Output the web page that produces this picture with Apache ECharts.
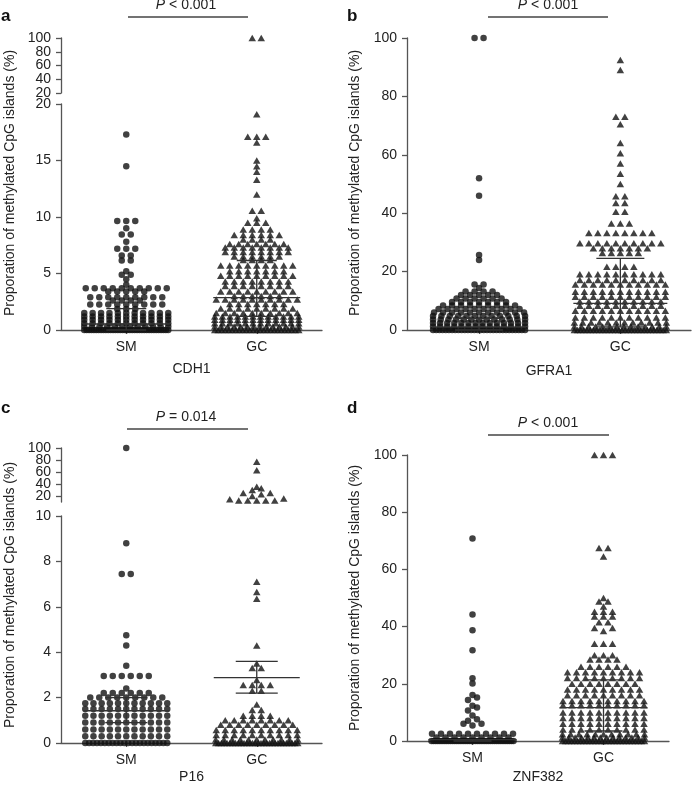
<!DOCTYPE html>
<html><head><meta charset="utf-8">
<script src="https://cdn.jsdelivr.net/npm/echarts@6/dist/echarts.min.js"></script>
<style>html,body{margin:0;padding:0;background:#fff}#c{width:692px;height:785px}</style>
</head><body><div id="c"></div>
<script>
// ---------------- DATA ----------------
const categories = ['SM', 'GC'];
const yTitle = 'Proporation of methylated CpG islands (%)';

// CDH1 (panel a)
const cdh1SmLevels = [0, 0.3, 0.6, 0.9, 1.2, 1.5, 1.85, 2.25, 2.6, 2.9, 3.4, 3.7, 4.0, 4.5, 4.9, 5.2, 6.15, 6.6, 7.2, 7.8, 8.45, 9.0, 9.65, 14.5, 17.3];
const cdh1SmCounts = [36, 12, 11, 11, 11, 11, 3, 9, 4, 9, 5, 10, 1, 1, 2, 1, 2, 2, 3, 1, 2, 1, 3, 1, 1];
const cdh1GcLevels = [0, 0.3, 0.6, 0.9, 1.2, 1.5, 1.9, 2.3, 2.7, 3.0, 3.4, 3.9, 4.3, 4.8, 5.2, 5.7, 6.2, 6.5, 6.9, 7.3, 7.6, 8.0, 8.4, 8.9, 9.5, 9.9, 10.55, 12.0, 13.3, 14.0, 14.5, 15.0, 16.6, 17.1, 19.1, 100];
const cdh1GcCounts = [25, 14, 12, 12, 12, 10, 9, 7, 10, 6, 9, 8, 8, 9, 7, 9, 4, 6, 8, 8, 7, 4, 6, 4, 3, 1, 2, 1, 1, 1, 1, 1, 1, 3, 1, 2];
const cdh1Center = [0.53, 2.86], cdh1Low = [0, 1.2], cdh1High = [1.9, 6.15];
const cdh1TicksLow = [0, 5, 10, 15, 20], cdh1TicksHigh = [20, 40, 60, 80, 100];

// GFRA1 (panel b)
const gfra1SmLevels = [0, 1.2, 2.4, 3.6, 4.8, 6.0, 7.2, 8.4, 9.6, 10.8, 12.0, 13.2, 14.4, 15.6, 24.0, 25.7, 46, 52, 100];
const gfra1SmCounts = [30, 14, 14, 13, 12, 11, 10, 9, 7, 6, 5, 4, 1, 2, 1, 1, 1, 1, 2];
const gfra1GcLevels = [0, 1.2, 2.6, 4.3, 6.6, 8.3, 9.8, 11.4, 13.1, 15.6, 17.1, 19.1, 21.7, 26.4, 28.0, 29.7, 33.2, 36.5, 40.5, 43.5, 45.8, 50, 53.5, 57, 60.5, 64, 70.5, 73, 89, 92.5];
const gfra1GcCounts = [30, 14, 12, 11, 11, 10, 10, 11, 11, 11, 10, 10, 4, 5, 7, 10, 8, 3, 2, 2, 2, 1, 1, 1, 1, 1, 1, 2, 1, 1];
const gfra1Center = [1.0, 9.1], gfra1Low = [0, 1.1], gfra1High = [4.0, 24.5];
const gfra1Ticks = [0, 20, 40, 60, 80, 100];

// P16 (panel c)
const p16SmLevels = [0, 0.3, 0.6, 0.9, 1.2, 1.5, 1.75, 2.0, 2.2, 2.4, 2.95, 3.4, 4.3, 4.75, 7.45, 8.8, 100];
const p16SmCounts = [22, 11, 11, 11, 11, 11, 11, 9, 6, 1, 6, 1, 1, 1, 2, 1, 1];
const p16GcLevels = [0, 0.15, 0.35, 0.57, 0.8, 1.0, 1.2, 1.45, 1.7, 2.3, 2.55, 2.77, 3.3, 3.5, 4.3, 6.35, 6.65, 7.1, 12.5, 14.5, 16, 20, 23, 25, 30, 33, 35.5, 63, 77];
const p16GcCounts = [30, 11, 10, 10, 9, 8, 4, 2, 1, 2, 4, 1, 2, 1, 1, 1, 1, 1, 5, 1, 1, 1, 1, 2, 1, 1, 1, 1, 1];
const p16Center = [1.42, 2.88], p16Low = [0.9, 2.2], p16High = [2.0, 3.6];
const p16TicksLow = [0, 2, 4, 6, 8, 10], p16TicksHigh = [20, 40, 60, 80, 100];

// ZNF382 (panel d)
const znfSmLevels = [0, 1.2, 2.5, 5.4, 6.0, 7.1, 7.6, 8.9, 10.7, 11.7, 12.3, 14.3, 15.2, 16.1, 20.1, 21.9, 31.7, 38.7, 44.2, 70.8];
const znfSmCounts = [40, 9, 10, 1, 2, 1, 1, 1, 1, 1, 1, 1, 1, 1, 1, 1, 1, 1, 1, 1];
const znfGcLevels = [0, 1.2, 2.4, 4, 6, 8, 10, 12.5, 14, 16, 18, 20, 22, 24, 26, 28.5, 30, 34, 38.5, 39.5, 41.5, 43.5, 45.2, 47, 48.8, 50, 64.5, 67.5, 100];
const znfGcCounts = [28, 14, 11, 10, 10, 10, 10, 10, 10, 9, 9, 8, 9, 9, 6, 4, 3, 3, 1, 2, 2, 3, 3, 1, 2, 1, 1, 2, 3];
const znfCenter = [0.45, 11.7], znfLow = [0, 3.5], znfHigh = [0.45, 21.4];
const znfTicks = [0, 20, 40, 60, 80, 100];

// ---------------- LAYOUT / STYLE ----------------
const FONT = '"Liberation Sans", Arial, Helvetica, sans-serif';
const AX = '#555';
const TXT = '#222';
const DOT = '#111';
const PITCH = 9;
const ROW_TH = 3.2;

const panels = [
  { gene: 'CDH1', letter: 'a', pRel: '< 0.001',
    sm: [cdh1SmLevels, cdh1SmCounts], gc: [cdh1GcLevels, cdh1GcCounts],
    center: cdh1Center, low: cdh1Low, high: cdh1High,
    left: 61, width: 261, xMin: 0.5, xMax: 2.5,
    segs: [{ min: 0, max: 20, top: 104, height: 226, ticks: cdh1TicksLow },
           { min: 20, max: 100, top: 38, height: 55, ticks: cdh1TicksHigh, compact: true }],
    nameGap: 32, longHalf: 43.5, shortHalf: 20, maxHalf: 42,
    letterPos: [1, 16], pPos: [186, 5], pLine: [128, 248, 17], titlePos: [10, 183] },
  { gene: 'GFRA1', letter: 'b', pRel: '< 0.001',
    sm: [gfra1SmLevels, gfra1SmCounts], gc: [gfra1GcLevels, gfra1GcCounts],
    center: gfra1Center, low: gfra1Low, high: gfra1High,
    left: 407, width: 284, xMin: 0.49, xMax: 2.5,
    segs: [{ min: 0, max: 100, top: 38, height: 292, ticks: gfra1Ticks }],
    nameGap: 34, longHalf: 47, shortHalf: 24, maxHalf: 46,
    letterPos: [347, 16], pPos: [548, 5], pLine: [488, 608, 17], titlePos: [355, 183] },
  { gene: 'P16', letter: 'c', pRel: '= 0.014',
    sm: [p16SmLevels, p16SmCounts], gc: [p16GcLevels, p16GcCounts],
    center: p16Center, low: p16Low, high: p16High,
    left: 61, width: 261, xMin: 0.5, xMax: 2.5,
    segs: [{ min: 0, max: 10, top: 516, height: 227, ticks: p16TicksLow },
           { min: 10, max: 100, top: 448, height: 54, ticks: p16TicksHigh, compact: true }],
    nameGap: 27, longHalf: 43, shortHalf: 21, maxHalf: 41,
    letterPos: [1, 408], pPos: [186, 417], pLine: [127, 248, 429], titlePos: [10, 595] },
  { gene: 'ZNF382', letter: 'd', pRel: '< 0.001',
    sm: [znfSmLevels, znfSmCounts], gc: [znfGcLevels, znfGcCounts],
    center: znfCenter, low: znfLow, high: znfHigh,
    left: 407, width: 262, xMin: 0.5, xMax: 2.5,
    segs: [{ min: 0, max: 100, top: 455, height: 288, ticks: znfTicks }],
    nameGap: 29, longHalf: 44, shortHalf: 19, maxHalf: 41,
    letterPos: [347, 408], pPos: [548, 423], pLine: [488, 609, 435], titlePos: [355, 598] }
];

// ---------------- BUILD ----------------
function expand(levels, counts) {
  const out = [];
  levels.forEach((v, i) => { for (let k = 0; k < counts[i]; k++) out.push(v); });
  return out;
}
function segOf(p, v) { return (p.segs.length > 1 && v > p.segs[0].max) ? 1 : 0; }
function pyOf(p, v) {
  const s = p.segs[segOf(p, v)];
  return s.top + s.height * (1 - (v - s.min) / (s.max - s.min));
}
// GraphPad-like row swarm: returns [[x, v, segIndex], ...]
function swarm(p, values, centerX) {
  const pxPerX = p.width / (p.xMax - p.xMin);
  const items = values.map(v => ({ v, py: pyOf(p, v) })).sort((a, b) => b.py - a.py);
  const rows = [];
  items.forEach(it => {
    const r = rows[rows.length - 1];
    if (r && Math.abs(it.py - r[0].py) < ROW_TH) r.push(it); else rows.push([it]);
  });
  const out = [];
  rows.forEach(r => {
    const n = r.length;
    let pitch = PITCH;
    if (n > 1 && (n - 1) * pitch > 2 * p.maxHalf) pitch = 2 * p.maxHalf / (n - 1);
    const slots = [];
    for (let k = 0; k < n; k++) slots.push((k - (n - 1) / 2) * pitch);
    slots.sort((a, b) => (Math.abs(a) - Math.abs(b)) || (a - b));
    const vals = r.map(o => o.v).sort((a, b) => a - b);
    vals.forEach((v, i) => out.push([centerX + slots[i] / pxPerX, v, segOf(p, v)]));
  });
  return out;
}

const grids = [], xAxes = [], yAxes = [], series = [], graphics = [];
const labelBase = { margin: 10, fontSize: 14, color: TXT, fontFamily: FONT, hideOverlap: false,
  showMinLabel: true, showMaxLabel: true };

panels.forEach(p => {
  const idx = [];
  p.segs.forEach((s, si) => {
    const gi = grids.length;
    grids.push({ left: p.left, top: s.top, width: p.width, height: s.height, containLabel: false });
    const bottom = si === 0;
    xAxes.push({
      type: 'value', gridIndex: gi, min: p.xMin, max: p.xMax, show: bottom,
      axisLine: { show: true, onZero: false, lineStyle: { color: AX, width: 1.3 } },
      axisTick: { show: true, customValues: [1, 2], length: 4, lineStyle: { color: AX, width: 1.3 } },
      axisLabel: { show: true, customValues: [1, 2], formatter: v => categories[Math.round(v) - 1] || '',
        margin: 10, fontSize: 14, color: TXT, fontFamily: FONT },
      splitLine: { show: false },
      name: bottom ? p.gene : '', nameLocation: 'middle', nameGap: p.nameGap,
      nameTextStyle: { fontSize: 14, color: TXT, fontFamily: FONT }
    });
    const yi = yAxes.length;
    // compact (broken) segments: split labels over two axes so none is dropped
    const mainLabels = s.compact ? s.ticks.filter((t, k) => k % 2 === 0) : s.ticks;
    yAxes.push({
      type: 'value', gridIndex: gi, min: s.min, max: s.max, interval: s.ticks[1] - s.ticks[0],
      axisLine: { show: true, onZero: false, lineStyle: { color: AX, width: 1.3 } },
      axisTick: { show: true, customValues: s.ticks, length: 5, lineStyle: { color: AX, width: 1.3 } },
      axisLabel: Object.assign({ customValues: mainLabels }, labelBase),
      splitLine: { show: false }
    });
    if (s.compact) {
      yAxes.push({
        type: 'value', gridIndex: gi, min: s.min, max: s.max, position: 'left', offset: 0,
        axisLine: { show: false }, axisTick: { show: false }, splitLine: { show: false },
        axisLabel: Object.assign({ customValues: s.ticks.filter((t, k) => k % 2 === 1) }, labelBase)
      });
    }
    idx.push({ gi, yi });
  });

  [p.sm, p.gc].forEach((g, gIdx) => {
    const pts = swarm(p, expand(g[0], g[1]), gIdx + 1);
    p.segs.forEach((s, si) => {
      series.push({
        type: 'scatter', xAxisIndex: idx[si].gi, yAxisIndex: idx[si].yi,
        symbol: gIdx === 0 ? 'circle' : 'triangle',
        symbolSize: gIdx === 0 ? 6.5 : [7.5, 6.5],
        itemStyle: { color: DOT },
        silent: true, animation: false,
        data: pts.filter(d => d[2] === si).map(d => [d[0], d[1]])
      });
    });
  });

  const L = p.longHalf, S = p.shortHalf;
  series.push({
    type: 'custom', xAxisIndex: idx[0].gi, yAxisIndex: idx[0].yi, z: 5, silent: true, animation: false,
    data: [0, 1].map(i => [i + 1, p.center[i], p.low[i], p.high[i]]),
    renderItem: (params, api) => {
      const x = api.value(0);
      const pc = api.coord([x, api.value(1)]);
      const pl = api.coord([x, api.value(2)]);
      const ph = api.coord([x, api.value(3)]);
      const st = { stroke: '#333', lineWidth: 1.3 };
      return { type: 'group', children: [
        { type: 'line', shape: { x1: pc[0] - L, y1: pc[1], x2: pc[0] + L, y2: pc[1] }, style: st },
        { type: 'line', shape: { x1: pl[0] - S, y1: pl[1], x2: pl[0] + S, y2: pl[1] }, style: st },
        { type: 'line', shape: { x1: ph[0] - S, y1: ph[1], x2: ph[0] + S, y2: ph[1] }, style: st },
        { type: 'line', shape: { x1: pc[0], y1: ph[1], x2: pc[0], y2: pl[1] }, style: st }
      ] };
    }
  });

  graphics.push({ type: 'text', x: p.letterPos[0], y: p.letterPos[1],
    style: { text: p.letter, fill: '#111', font: 'bold 17px ' + FONT, verticalAlign: 'middle' } });
  graphics.push({ type: 'text', x: p.pPos[0], y: p.pPos[1],
    style: { text: '{i|P} ' + p.pRel, fill: TXT, font: '14px ' + FONT, align: 'center', verticalAlign: 'middle',
      rich: { i: { fontStyle: 'italic', fontSize: 14, fontFamily: FONT, fill: TXT } } } });
  graphics.push({ type: 'line', shape: { x1: p.pLine[0], y1: p.pLine[2], x2: p.pLine[1], y2: p.pLine[2] },
    style: { stroke: '#444', lineWidth: 1.5 } });
  graphics.push({ type: 'text', x: p.titlePos[0], y: p.titlePos[1], rotation: Math.PI / 2,
    style: { text: yTitle, fill: TXT, font: '14px ' + FONT, align: 'center', verticalAlign: 'middle' } });
});

const chart = echarts.init(document.getElementById('c'), null, { renderer: 'canvas' });
chart.setOption({
  animation: false,
  backgroundColor: '#fff',
  grid: grids, xAxis: xAxes, yAxis: yAxes, series: series, graphic: graphics
});
</script>
</body></html>
